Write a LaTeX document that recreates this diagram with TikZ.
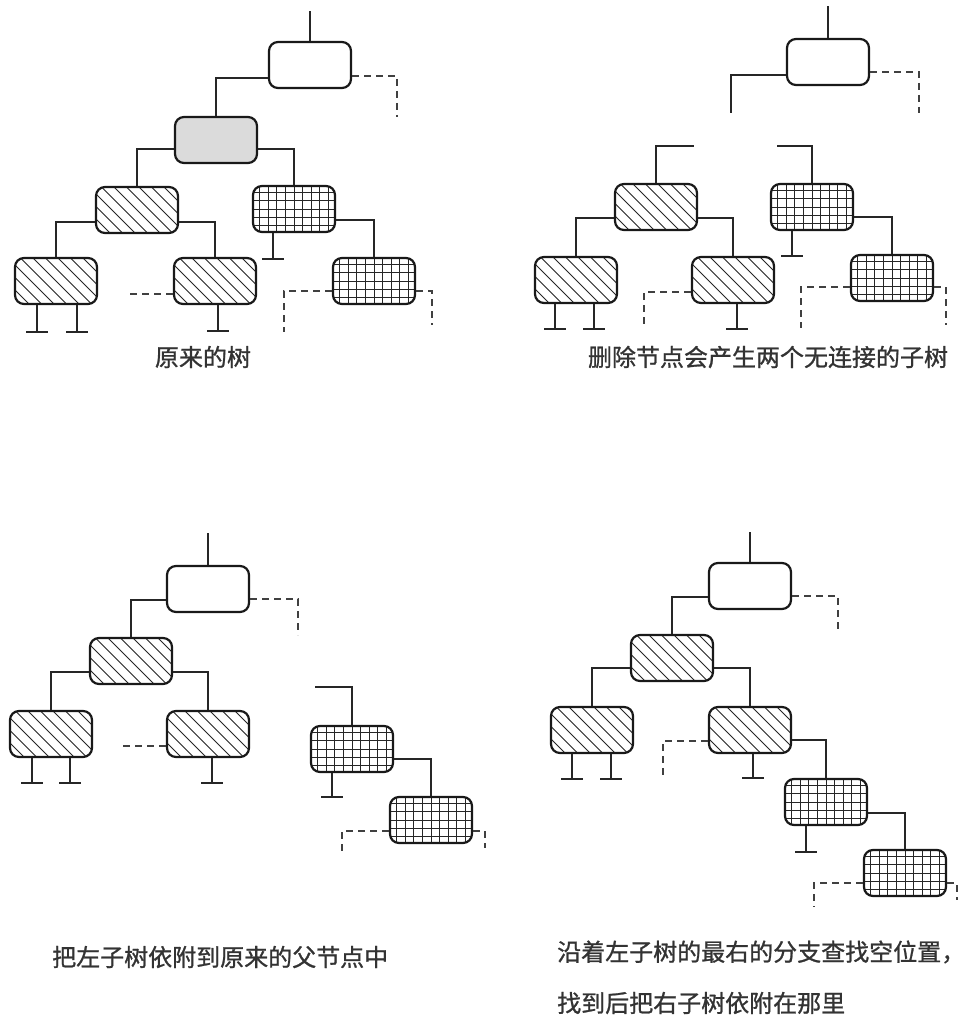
\documentclass[tikz,border=0pt]{standalone}
\usepackage{fontspec}
\newfontfamily\cjk[FakeBold=1]{Noto Sans CJK SC}
\usetikzlibrary{calc}
\tikzset{
  tnode/.style={draw=black!90, line width=2.2pt, rounded corners=9pt, minimum width=82pt, minimum height=46pt, inner sep=0pt, fill=white},
  plainbox/.style={tnode},
  graybox/.style={tnode, fill=black!14},
  hatchbox/.style={tnode, path picture={
      \foreach \k in {-8,...,8}{\draw[line width=1pt, black!85] ([shift={(\k*12.5-45,-45)}]path picture bounding box.center) -- ++(90,90);}}},
  gridbox/.style={tnode, path picture={
      \foreach \k in {-6,...,6}{\draw[line width=0.85pt, black!85] ([shift={(\k*8.6,-30)}]path picture bounding box.center) -- ++(0,60);}
      \foreach \k in {-3,...,3}{\draw[line width=0.85pt, black!85] ([shift={(-50,\k*8.2)}]path picture bounding box.center) -- ++(100,0);}}},
  conn/.style={line width=1.3pt, black!85},
  dconn/.style={line width=1.3pt, black!75, dash pattern=on 7pt off 5pt},
  gnd/.style={line width=1.4pt, black!85},
  lbl/.style={font=\cjk\fontsize{24}{28}\selectfont, text=black!80, inner sep=0pt}
}
\newcommand\grnd[3]{\draw[gnd] ([shift={(#2,0)}]#1.south) -- ++(0,#3) ++(-11,0) -- ++(22,0);}
\begin{document}
\begin{tikzpicture}[x=1pt,y=-1pt]
\useasboundingbox (0,0) rectangle (968,1019);

% ---------- top-left: original tree ----------
\node[plainbox] (A1) at (310,65) {};
\node[graybox]  (A2) at (216,140) {};
\node[hatchbox] (A3) at (137,210) {};
\node[gridbox]  (A4) at (294,209) {};
\node[hatchbox] (A5) at (56,281) {};
\node[hatchbox] (A6) at (215,281) {};
\node[gridbox]  (A7) at (374,281) {};
\draw[conn] (A1.north) -- ++(0,-30);
\draw[conn] ([shift={(0,13)}]A1.west) -| (A2.north);
\draw[dconn] ([shift={(0,11)}]A1.east) -- ++(45,0) -- ++(0,41);
\draw[conn] ([shift={(0,9)}]A2.west) -| (A3.north);
\draw[conn] ([shift={(0,9)}]A2.east) -| (A4.north);
\draw[conn] ([shift={(0,12)}]A3.west) -| (A5.north);
\draw[conn] ([shift={(0,12)}]A3.east) -| (A6.north);
\draw[conn] ([shift={(0,11)}]A4.east) -| (A7.north);
\grnd{A4}{-21}{26}
\grnd{A5}{-19}{27}
\grnd{A5}{21}{27}
\grnd{A6}{3}{26}
\draw[dconn] ([shift={(0,13)}]A6.west) -- ++(-47,0);
\draw[dconn] ([shift={(0,10)}]A7.west) -- ++(-48,0) -- ++(0,41);
\draw[dconn] ([shift={(0,10)}]A7.east) -- ++(16,0) -- ++(0,34);
\node[lbl] (T1) at (203,357) {原来的树};

% ---------- top-right: deletion ----------
\node[plainbox] (B1) at (828,62) {};
\node[hatchbox] (B3) at (656,207) {};
\node[gridbox]  (B4) at (812,207) {};
\node[hatchbox] (B5) at (576,280) {};
\node[hatchbox] (B6) at (733,280) {};
\node[gridbox]  (B7) at (892,278) {};
\draw[conn] (B1.north) -- ++(0,-32);
\draw[conn] ([shift={(0,13)}]B1.west) -- ++(-55,0) -- ++(0,38);
\draw[dconn] ([shift={(0,10)}]B1.east) -- ++(49,0) -- ++(0,41);
\draw[conn] (B3.north) -- ++(0,-37) -- ++(38,0);
\draw[conn] (B4.north) -- ++(0,-37) -- ++(-35,0);
\draw[conn] ([shift={(0,11)}]B3.west) -| (B5.north);
\draw[conn] ([shift={(0,11)}]B3.east) -| (B6.north);
\draw[conn] ([shift={(0,10)}]B4.east) -| (B7.north);
\grnd{B4}{-20}{25}
\grnd{B5}{-21}{25}
\grnd{B5}{18}{25}
\grnd{B6}{4}{25}
\draw[dconn] ([shift={(0,12)}]B6.west) -- ++(-47,0) -- ++(0,36);
\draw[dconn] ([shift={(0,9)}]B7.west) -- ++(-49,0) -- ++(0,41);
\draw[dconn] ([shift={(0,9)}]B7.east) -- ++(12,0) -- ++(0,38);
\node[lbl] (T2) at (768,357) {删除节点会产生两个无连接的子树};

% ---------- bottom-left: attach left subtree ----------
\node[plainbox] (C1) at (208,589) {};
\node[hatchbox] (C3) at (131,661) {};
\node[hatchbox] (C5) at (51,734) {};
\node[hatchbox] (C6) at (208,734) {};
\node[gridbox]  (C4) at (352,749) {};
\node[gridbox]  (C7) at (431,820) {};
\draw[conn] (C1.north) -- ++(0,-32);
\draw[conn] ([shift={(0,11)}]C1.west) -| (C3.north);
\draw[dconn] ([shift={(0,10)}]C1.east) -- ++(48,0) -- ++(0,36);
\draw[conn] ([shift={(0,11)}]C3.west) -| (C5.north);
\draw[conn] ([shift={(0,11)}]C3.east) -| (C6.north);
\grnd{C5}{-19}{25}
\grnd{C5}{19}{25}
\grnd{C6}{4}{25}
\draw[dconn] ([shift={(0,12)}]C6.west) -- ++(-45,0);
\draw[conn] (C4.north) -- ++(0,-38) -- ++(-37,0);
\grnd{C4}{-20}{24}
\draw[conn] ([shift={(0,10)}]C4.east) -| (C7.north);
\draw[dconn] ([shift={(0,11)}]C7.west) -- ++(-47,0) -- ++(0,22);
\draw[dconn] ([shift={(0,11)}]C7.east) -- ++(12,0) -- ++(0,17);
\node[lbl, anchor=west] (T3) at (52,957) {把左子树依附到原来的父节点中};

% ---------- bottom-right: attach right subtree ----------
\node[plainbox] (D1) at (750,586) {};
\node[hatchbox] (D3) at (672,658) {};
\node[hatchbox] (D5) at (592,730) {};
\node[hatchbox] (D6) at (750,730) {};
\node[gridbox]  (D4) at (826,802) {};
\node[gridbox]  (D7) at (905,873) {};
\draw[conn] (D1.north) -- ++(0,-30);
\draw[conn] ([shift={(0,11)}]D1.west) -| (D3.north);
\draw[dconn] ([shift={(0,10)}]D1.east) -- ++(46,0) -- ++(0,36);
\draw[conn] ([shift={(0,10)}]D3.west) -| (D5.north);
\draw[conn] ([shift={(0,10)}]D3.east) -| (D6.north);
\grnd{D5}{-20}{25}
\grnd{D5}{19}{25}
\grnd{D6}{3}{24}
\draw[dconn] ([shift={(0,11)}]D6.west) -- ++(-45,0) -- ++(0,37);
\draw[conn] ([shift={(0,10)}]D6.east) -| (D4.north);
\grnd{D4}{-20}{26}
\draw[conn] ([shift={(0,11)}]D4.east) -| (D7.north);
\draw[dconn] ([shift={(0,10)}]D7.west) -- ++(-49,0) -- ++(0,24);
\draw[dconn] ([shift={(0,10)}]D7.east) -- ++(10,0) -- ++(0,17);
\node[lbl, anchor=west] (T4) at (557,952) {沿着左子树的最右的分支查找空位置，};
\node[lbl, anchor=west] (T5) at (557,1003) {找到后把右子树依附在那里};
\end{tikzpicture}
\end{document}
